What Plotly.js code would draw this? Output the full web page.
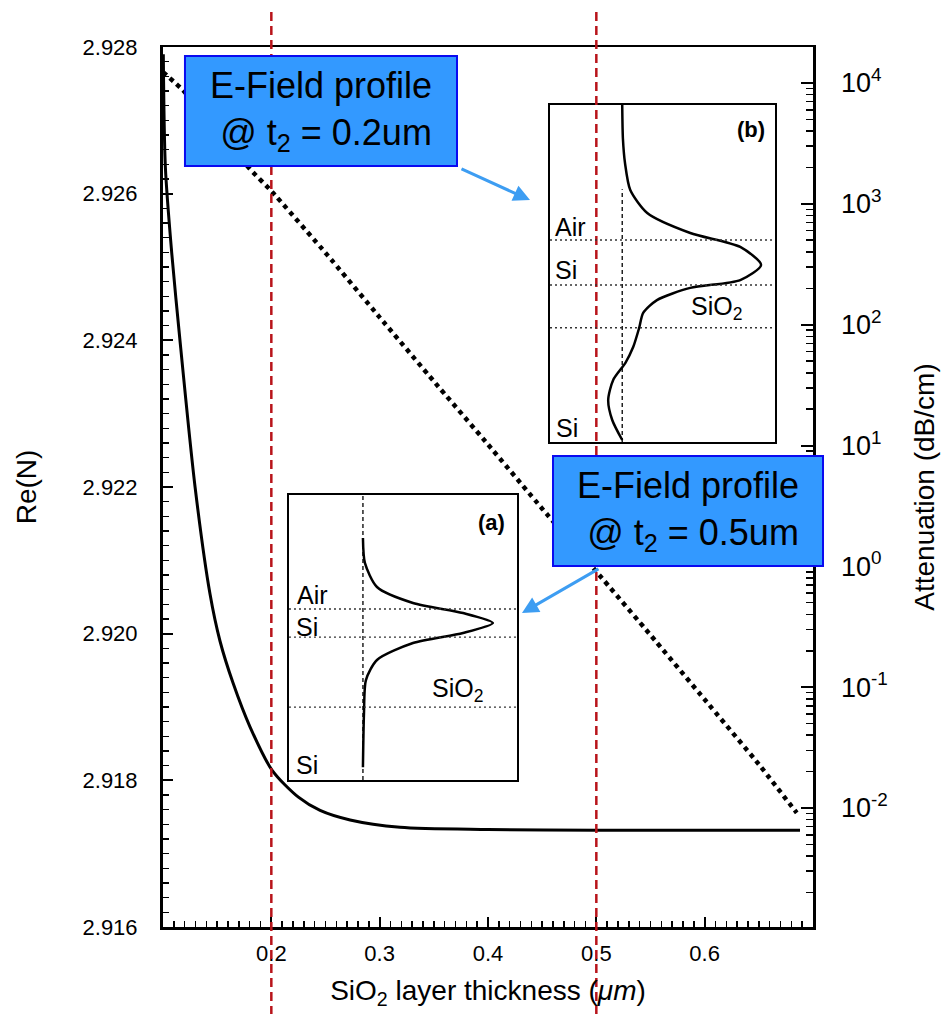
<!DOCTYPE html>
<html>
<head>
<meta charset="utf-8">
<script src="https://cdn.plot.ly/plotly-3.0.1.min.js"></script>
<style>html,body{margin:0;padding:0;background:#fff}#chart{width:944px;height:1014px}</style>
</head>
<body>
<div id="chart"></div>
<script>
// ---------- main chart data ----------
const thicknessRe = [0.1003, 0.1022, 0.1080, 0.1150, 0.1296, 0.1434, 0.1526, 0.1646, 0.1803, 0.2006, 0.2250, 0.2450, 0.2727, 0.3188, 0.4000, 0.5000, 0.6000, 0.6880];
const reN = [2.9279, 2.92636, 2.92520, 2.92410, 2.92200, 2.92054, 2.91990, 2.91933, 2.91873, 2.91814, 2.91777, 2.91759, 2.91746, 2.91736, 2.91733, 2.91732, 2.91732, 2.91732];

const thicknessAtt = [0.100, 0.1185, 0.150, 0.180, 0.2006, 0.2514, 0.300, 0.350, 0.400, 0.450, 0.5007, 0.550, 0.600, 0.650, 0.685];
const attenuation = [12300, 8710, 3980, 1950, 1260, 380, 115, 34, 10.2, 3.0, 0.89, 0.27, 0.079, 0.023, 0.0091];

const xTickVals = [0.2, 0.3, 0.4, 0.5, 0.6];
const xTickText = ['0.2', '0.3', '0.4', '0.5', '0.6'];
const attTickVals = [0.01, 0.1, 1, 10, 100, 1000, 10000];
const attTickText = ['10<sup>-2</sup>', '10<sup>-1</sup>', '10<sup>0</sup>', '10<sup>1</sup>', '10<sup>2</sup>', '10<sup>3</sup>', '10<sup>4</sup>'];

const markerThickness = [0.2, 0.5];
const boxLabels = ['E-Field profile<br>\u00a0@ t<sub>2</sub> = 0.2um', 'E-Field profile<br>\u00a0@ t<sub>2</sub> = 0.5um'];

// ---------- inset (a): t2 = 0.5 um ----------
const depthA = [-0.507, -0.329, -0.157, -0.043, 0.029, 0.100, 0.171, 0.243, 0.364, 0.507, 0.743, 1.129];
const fieldA = [0.0, 0.015, 0.108, 0.385, 0.77, 1.0, 0.77, 0.385, 0.108, 0.023, 0.008, 0.0];
const interfacesA = [0.0, 0.2, 0.7];
const labelsA = ['(a)', 'Air', 'Si', 'SiO<sub>2</sub>', 'Si'];

// ---------- inset (b): t2 = 0.2 um ----------
const depthB = [-0.60, -0.45, -0.342, -0.222, -0.12, -0.031, 0.031, 0.111, 0.178, 0.213, 0.267, 0.324, 0.391, 0.476, 0.547, 0.622, 0.711, 0.80, 0.889];
const fieldB = [0.0, 0.005, 0.02, 0.058, 0.18, 0.49, 0.85, 1.0, 0.85, 0.49, 0.25, 0.151, 0.122, 0.079, 0.022, -0.065, -0.101, -0.072, 0.0];
const interfacesB = [0.0, 0.2, 0.39];
const labelsB = ['(b)', 'Air', 'Si', 'SiO<sub>2</sub>', 'Si'];

const FONT = 'Liberation Sans, Arial, Helvetica, sans-serif';
const RED = '#b8141a';
const BLUE_FILL = '#3399ff';
const BLUE_EDGE = '#0a0af0';
const ARROW = '#3d9df2';

const traces = [
  {x: thicknessRe, y: reN, xaxis: 'x', yaxis: 'y', mode: 'lines',
   line: {color: '#000', width: 3, shape: 'spline', smoothing: 0.8}, hoverinfo: 'skip'},
  {x: thicknessAtt, y: attenuation, xaxis: 'x', yaxis: 'y2', mode: 'lines',
   line: {color: '#000', width: 4.5, dash: '4.5px,4.5px', shape: 'spline', smoothing: 0.4}, hoverinfo: 'skip'},
  {x: fieldA, y: depthA, xaxis: 'x3', yaxis: 'y3', mode: 'lines',
   line: {color: '#000', width: 2.5, shape: 'spline', smoothing: 0.7}, hoverinfo: 'skip'},
  {x: fieldB, y: depthB, xaxis: 'x4', yaxis: 'y4', mode: 'lines',
   line: {color: '#000', width: 2.5, shape: 'spline', smoothing: 0.7}, hoverinfo: 'skip'}
];

const insetAxis = {showline: true, mirror: true, linecolor: '#000', linewidth: 2, ticks: '',
  showticklabels: false, showgrid: false, zeroline: false, fixedrange: true};

const shapes = [];
markerThickness.forEach(t => shapes.push({type: 'line', xref: 'x', yref: 'paper', x0: t, x1: t, y0: -0.1, y1: 1.045,
  line: {color: RED, width: 2.5, dash: '9px,5px'}}));
shapes.push({type: 'line', xref: 'x3', yref: 'y3 domain', x0: 0, x1: 0, y0: 0, y1: 1, line: {color: '#000', width: 1.3, dash: '4px,3px'}});
shapes.push({type: 'line', xref: 'x4', yref: 'y4 domain', x0: 0, x1: 0, y0: 0, y1: 0.75, line: {color: '#000', width: 1.3, dash: '4px,3px'}});
interfacesA.forEach(z => shapes.push({type: 'line', xref: 'x3 domain', yref: 'y3', x0: 0, x1: 1, y0: z, y1: z, line: {color: '#333', width: 1.3, dash: '2px,3px'}}));
interfacesB.forEach(z => shapes.push({type: 'line', xref: 'x4 domain', yref: 'y4', x0: 0, x1: 1, y0: z, y1: z, line: {color: '#333', width: 1.3, dash: '2px,3px'}}));
const boxRects = [[0.0338, 0.4523, 0.8648, 0.9898], [0.600, 1.0154, 0.4102, 0.5352]];
boxRects.forEach(r => shapes.push({type: 'rect', xref: 'paper', yref: 'paper', x0: r[0], x1: r[1], y0: r[2], y1: r[3],
  fillcolor: BLUE_FILL, line: {color: BLUE_EDGE, width: 2}}));

const annotations = [];
boxRects.forEach((r, i) => annotations.push({xref: 'paper', yref: 'paper', x: (r[0] + r[1]) / 2, y: (r[2] + r[3]) / 2,
  xanchor: 'center', yanchor: 'middle',
  text: boxLabels[i], showarrow: false, align: 'center', font: {family: FONT, size: 36, color: '#000'}}));
annotations.push({xref: 'paper', yref: 'paper', x: 0.5646, y: 0.826, ax: -70, ay: -32, text: '', showarrow: true,
  arrowhead: 2, arrowsize: 1.1, arrowwidth: 3, arrowcolor: ARROW, standoff: 0});
annotations.push({xref: 'paper', yref: 'paper', x: 0.5523, y: 0.3568, ax: 78, ay: -45, text: '', showarrow: true,
  arrowhead: 2, arrowsize: 1.1, arrowwidth: 3, arrowcolor: ARROW, standoff: 0});
const posA = [[0.89, 0.905, 'center'], [0.025, 0.649, 'left'], [0.02, 0.537, 'left'], [0.74, 0.316, 'center'], [0.02, 0.053, 'left']];
const posB = [[0.893, 0.926, 'center'], [0.012, 0.638, 'left'], [0.012, 0.51, 'left'], [0.74, 0.398, 'center'], [0.018, 0.042, 'left']];
labelsA.forEach((t, i) => annotations.push({xref: 'x3 domain', yref: 'y3 domain', x: posA[i][0], y: posA[i][1], xanchor: posA[i][2], yanchor: 'middle',
  text: i === 0 ? '<b>' + t + '</b>' : t, showarrow: false, font: {family: FONT, size: i === 0 ? 22 : 25, color: '#000'}}));
labelsB.forEach((t, i) => annotations.push({xref: 'x4 domain', yref: 'y4 domain', x: posB[i][0], y: posB[i][1], xanchor: posB[i][2], yanchor: 'middle',
  text: i === 0 ? '<b>' + t + '</b>' : t, showarrow: false, font: {family: FONT, size: i === 0 ? 22 : 25, color: '#000'}}));

const layout = {
  width: 944, height: 1014,
  margin: {l: 163, r: 131, t: 47, b: 87},
  paper_bgcolor: '#fff', plot_bgcolor: 'rgba(0,0,0,0)',
  showlegend: false,
  font: {family: FONT, color: '#000'},
  xaxis: {range: [0.1, 0.7], tickmode: 'array', tickvals: xTickVals, ticktext: xTickText,
    ticks: 'inside', ticklen: 10, tickwidth: 2, tickcolor: '#000',
    minor: {dtick: 0.01, tick0: 0, ticks: 'inside', ticklen: 6, tickwidth: 1.5, tickcolor: '#000', showgrid: false},
    showline: true, linewidth: 2.5, linecolor: '#000', mirror: true, showgrid: false, zeroline: false,
    tickfont: {size: 22}, ticklabelstandoff: 5,
    title: {text: 'SiO<sub>2</sub> layer thickness (<i>μm</i>)', font: {size: 28}, standoff: 16}},
  yaxis: {range: [2.916, 2.928], dtick: 0.002, tick0: 2.916, tickformat: '.3f',
    ticks: 'inside', ticklen: 10, tickwidth: 2, tickcolor: '#000',
    minor: {dtick: 0.0002, ticks: 'inside', ticklen: 6, tickwidth: 1.5, tickcolor: '#000', showgrid: false},
    showline: true, linewidth: 3, linecolor: '#000', showgrid: false, zeroline: false,
    tickfont: {size: 22}, ticklabelstandoff: 18,
    title: {text: 'Re(N)', font: {size: 28}, standoff: 38}},
  yaxis2: {type: 'log', range: [-2.985, 4.298], overlaying: 'y', side: 'right',
    tickmode: 'array', tickvals: attTickVals, ticktext: attTickText,
    ticks: 'inside', ticklen: 12, tickwidth: 2, tickcolor: '#000',
    minor: {dtick: 'D1', ticks: 'inside', ticklen: 7, tickwidth: 1.5, tickcolor: '#000', showgrid: false},
    showline: true, linewidth: 2.5, linecolor: '#000', showgrid: false, zeroline: false,
    tickfont: {size: 27}, ticklabelstandoff: 20,
    title: {text: 'Attenuation (dB/cm)', font: {size: 28}, standoff: 28}},
  xaxis3: Object.assign({domain: [0.1938, 0.5446], anchor: 'y3', range: [-0.569, 1.185]}, insetAxis),
  yaxis3: Object.assign({domain: [0.167, 0.4909], anchor: 'x3', range: [1.221, -0.814]}, insetAxis),
  xaxis4: Object.assign({domain: [0.5954, 0.9415], anchor: 'y4', range: [-0.52, 1.1]}, insetAxis),
  yaxis4: Object.assign({domain: [0.5511, 0.9341], anchor: 'x4', range: [0.898, -0.6]}, insetAxis),
  shapes: shapes,
  annotations: annotations
};

Plotly.newPlot('chart', traces, layout, {staticPlot: true, displayModeBar: false});
</script>
</body>
</html>
